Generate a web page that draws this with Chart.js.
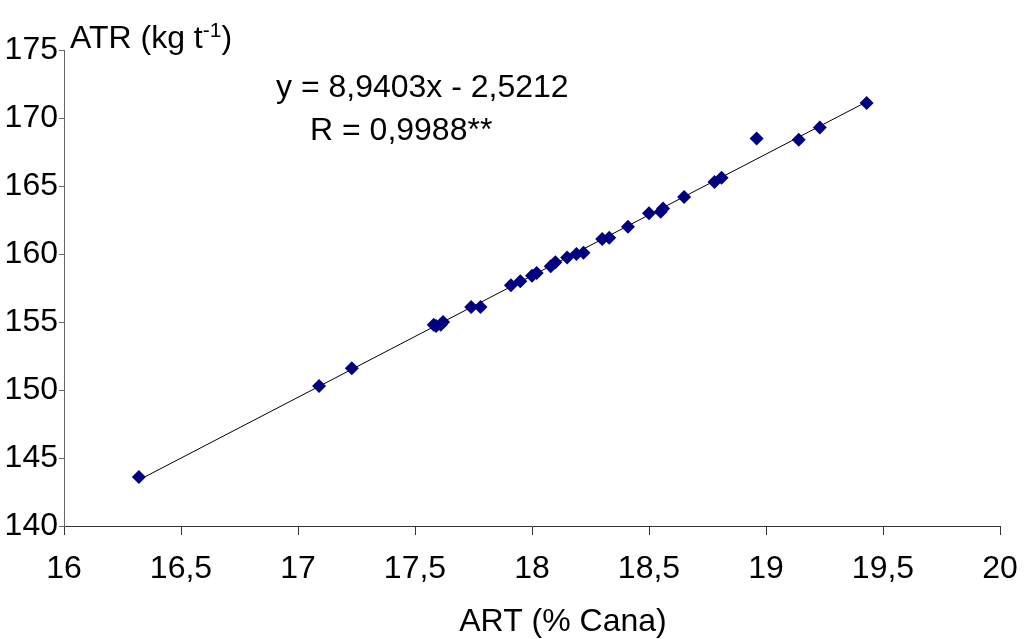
<!DOCTYPE html>
<html>
<head>
<meta charset="utf-8">
<script src="https://cdn.jsdelivr.net/npm/chart.js@4/dist/chart.umd.min.js"></script>
<style>
  body { margin: 0; background: #fff; }
  #wrap { width: 1024px; height: 639px; }
</style>
</head>
<body>
<div id="wrap"><canvas id="atrChart" width="1024" height="639"></canvas></div>
<script>
// ART (% cana) x ATR (kg/t)
var artValues = [16.32, 17.09, 17.23, 17.58, 17.59, 17.61, 17.62, 17.74, 17.78, 17.91, 17.95,
                 18.00, 18.02, 18.08, 18.10, 18.15, 18.19, 18.22, 18.30, 18.33, 18.41, 18.50,
                 18.55, 18.56, 18.65, 18.78, 18.81, 18.96, 19.14, 19.23, 19.43];
var atrValues = [143.6, 150.3, 151.6, 154.8, 154.7, 154.8, 155.0, 156.1, 156.1, 157.7, 158.0,
                 158.4, 158.6, 159.1, 159.4, 159.75, 160.0, 160.1, 161.1, 161.2, 162.0, 163.0,
                 163.1, 163.35, 164.2, 165.3, 165.6, 168.5, 168.4, 169.3, 171.1];

// regressao mostrada no grafico
var slope = 8.9403;
var intercept = -2.5212;
var equationText = "y = 8,9403x - 2,5212";
var rText = "R = 0,9988**";

var xTicks = [16, 16.5, 17, 17.5, 18, 18.5, 19, 19.5, 20];
var yTicks = [140, 145, 150, 155, 160, 165, 170, 175];

var points = artValues.map(function(x, i) { return { x: x, y: atrValues[i] }; });
var xMin = Math.min.apply(null, artValues);
var xMax = Math.max.apply(null, artValues);
var trend = [
  { x: xMin, y: slope * xMin + intercept },
  { x: xMax, y: slope * xMax + intercept }
];

var FONT = "Arial, 'Liberation Sans', sans-serif";

// textos extras: titulo do eixo y, equacao, titulo do eixo x
var textPlugin = {
  id: 'extraTexts',
  afterDraw: function(chart) {
    var ctx = chart.ctx;
    ctx.save();
    ctx.fillStyle = '#000';
    ctx.textBaseline = 'alphabetic';
    ctx.textAlign = 'left';

    ctx.font = "32px " + FONT;
    var x = 70;
    ctx.fillText("ATR (kg t", x, 48);
    x += ctx.measureText("ATR (kg t").width;
    ctx.font = "21px " + FONT;
    ctx.fillText("-1", x, 37);
    x += ctx.measureText("-1").width;
    ctx.font = "32px " + FONT;
    ctx.fillText(")", x, 48);

    ctx.fillText(equationText, 276, 97);
    ctx.fillText(rText, 310, 140);

    ctx.textAlign = 'center';
    ctx.fillText("ART (% Cana)", 563, 631);
    ctx.restore();
  }
};

var chart = new Chart(document.getElementById('atrChart').getContext('2d'), {
  type: 'scatter',
  data: {
    datasets: [{
      label: 'ATR',
      data: points,
      pointStyle: 'rectRot',
      pointRadius: 7,
      pointHoverRadius: 7,
      backgroundColor: '#000080',
      borderColor: '#000080',
      borderWidth: 0,
      order: 1
    }, {
      label: 'Linear',
      type: 'line',
      data: trend,
      borderColor: '#000',
      borderWidth: 1,
      pointRadius: 0,
      fill: false,
      order: 2
    }]
  },
  options: {
    responsive: false,
    animation: false,
    layout: { padding: { top: 50, right: 24, left: 0, bottom: 0 } },
    plugins: {
      legend: { display: false },
      tooltip: { enabled: false }
    },
    scales: {
      x: {
        type: 'linear',
        min: 16,
        max: 20,
        afterBuildTicks: function(scale) {
          scale.ticks = xTicks.map(function(v) { return { value: v }; });
        },
        afterFit: function(scale) {
          scale.height = 113;
          scale.paddingLeft = 0;
          scale.paddingRight = 0;
        },
        grid: { drawOnChartArea: false, tickLength: 9, color: '#333' },
        border: { color: '#333', width: 1 },
        ticks: {
          color: '#000',
          padding: 15,
          maxRotation: 0,
          autoSkip: false,
          font: { family: FONT, size: 32 },
          callback: function(v) { return String(v).replace('.', ','); }
        }
      },
      y: {
        type: 'linear',
        min: 140,
        max: 175,
        afterBuildTicks: function(scale) {
          scale.ticks = yTicks.map(function(v) { return { value: v }; });
        },
        afterFit: function(scale) { scale.width = 64; },
        grid: { drawOnChartArea: false, tickLength: 5, color: '#666' },
        border: { color: '#666', width: 1 },
        ticks: {
          color: '#000',
          padding: 1,
          autoSkip: false,
          font: { family: FONT, size: 32 }
        }
      }
    }
  },
  plugins: [textPlugin]
});
</script>
</body>
</html>
